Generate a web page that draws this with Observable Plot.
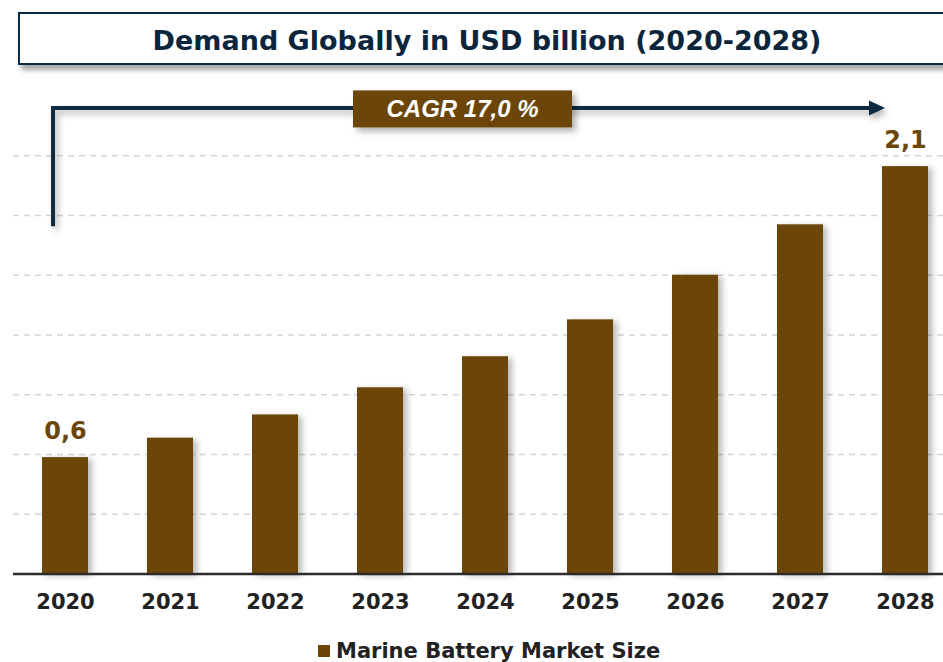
<!DOCTYPE html>
<html>
<head>
<meta charset="utf-8">
<script src="https://cdn.jsdelivr.net/npm/d3@7"></script>
<script src="https://cdn.jsdelivr.net/npm/@observablehq/plot@0.6"></script>
<style>
  html, body { margin: 0; padding: 0; background: #fff; }
  body { width: 943px; height: 662px; overflow: hidden; position: relative; }
  #title {
    position: absolute; left: 18px; top: 12px; width: 944px; height: 49px;
    border: 2px solid #0e2a40; background: #fff;
    box-shadow: 3px 5px 5px rgba(0,0,0,0.35);
    font: bold 27px "DejaVu Sans", Verdana, sans-serif; color: #0b263c;
    display: flex; align-items: center; justify-content: center;
    box-sizing: content-box; padding-right: 0;
  }
  #title span { position: relative; left: -5px; top: 2px; }
  #chart { position: absolute; left: 0; top: 0; }
  #legend {
    position: absolute; left: 318px; top: 639px; line-height: 21px;
    font: bold 21px "DejaVu Sans", Verdana, sans-serif; color: #222;
    display: flex; align-items: center; white-space: nowrap;
  }
  #legend i { display: inline-block; width: 12px; height: 12px; background: #6c4609; margin-right: 6px; }
  g[aria-label="bar"] { filter: drop-shadow(4px 2px 3px rgba(0,0,0,0.28)); }
  .arrow { filter: drop-shadow(3px 4px 3px rgba(0,0,0,0.3)); }
</style>
</head>
<body>
<div id="chart"></div>
<div id="title"><span>Demand Globally in USD billion (2020-2028)</span></div>
<div id="legend"><i></i><span>Marine Battery Market Size</span></div>
<script>
const years = ["2020","2021","2022","2023","2024","2025","2026","2027","2028"];
const values = [0.60, 0.70, 0.82, 0.96, 1.12, 1.31, 1.54, 1.80, 2.10];
const labelledYears = ["2020", "2028"];
const gridValues = [0.308, 0.616, 0.924, 1.232, 1.540, 1.848, 2.156];
const seriesName = "Marine Battery Market Size";
const cagrText = "CAGR 17,0 %";
const arrowLevel = 2.40;   // value level of the horizontal CAGR arrow
const arrowStart = 1.79;   // value level where the vertical stem begins

const brown = "#6c4609";
const navy = "#0e2a40";

const data = years.map((year, i) => ({year, value: values[i]}));
const labels = data.filter(d => labelledYears.includes(d.year))
  .map(d => ({...d, label: d.value.toFixed(1).replace(".", ",")}));

function cagrMark(index, scales, values, dims) {
  const ns = "http://www.w3.org/2000/svg";
  const g = document.createElementNS(ns, "g");
  const bw = scales.x.bandwidth ? scales.x.bandwidth() : 46;
  const xStem = scales.x(years[0]) + bw * 0.24;
  const xTip = scales.x(years[years.length - 1]) + bw / 2 - 20;
  const yTop = scales.y(arrowLevel);
  const yBot = scales.y(arrowStart);
  const ag = document.createElementNS(ns, "g");
  ag.setAttribute("class", "arrow");
  const path = document.createElementNS(ns, "path");
  path.setAttribute("d", `M${xStem},${yBot}V${yTop}H${xTip - 15}`);
  path.setAttribute("fill", "none");
  path.setAttribute("stroke", navy);
  path.setAttribute("stroke-width", 4);
  ag.appendChild(path);
  const head = document.createElementNS(ns, "path");
  head.setAttribute("d", `M${xTip - 16},${yTop - 7.5}L${xTip},${yTop}L${xTip - 16},${yTop + 7.5}Z`);
  head.setAttribute("fill", navy);
  ag.appendChild(head);
  g.appendChild(ag);
  // CAGR box
  const cx = (scales.x(years[3]) + scales.x(years[4])) / 2 + bw / 2 + 30;
  const bwid = 219, bh = 37;
  const rect = document.createElementNS(ns, "rect");
  rect.setAttribute("x", cx - bwid / 2);
  rect.setAttribute("y", yTop - 17.5);
  rect.setAttribute("width", bwid);
  rect.setAttribute("height", bh);
  rect.setAttribute("fill", brown);
  rect.setAttribute("style", "filter: drop-shadow(4px 4px 3px rgba(0,0,0,0.3))");
  g.appendChild(rect);
  const t = document.createElementNS(ns, "text");
  t.setAttribute("x", cx);
  t.setAttribute("y", yTop + 1);
  t.setAttribute("text-anchor", "middle");
  t.setAttribute("dominant-baseline", "central");
  t.setAttribute("fill", "#fff");
  t.setAttribute("style", "font: italic bold 24px 'Liberation Sans', Arial, sans-serif");
  t.textContent = cagrText;
  g.appendChild(t);
  return g;
}

const chart = Plot.plot({
  width: 943,
  height: 662,
  marginTop: 88.5,
  marginBottom: 88.5,
  marginLeft: 13,
  marginRight: 0,
  style: {fontFamily: "DejaVu Sans, Verdana, sans-serif", background: "transparent", overflow: "hidden"},
  x: {type: "band", domain: years, range: [13, 958], paddingInner: 0.56, paddingOuter: 0.28, label: null},
  y: {domain: [0, 2.5], axis: null, label: null},
  marks: [
    Plot.ruleY(gridValues, {stroke: "#cfd6dc", strokeWidth: 1.5, strokeDasharray: "6,5"}),
    Plot.barY(data, {x: "year", y: "value", fill: brown, title: d => `${seriesName} ${d.year}: ${d.value}`}),
    Plot.ruleY([0], {stroke: "#2b2b2b", strokeWidth: 2.5}),
    Plot.axisX({tickSize: 0, tickPadding: 20, fontSize: 21, fontWeight: "bold", fill: "#222", label: null}),
    Plot.text(labels, {x: "year", y: "value", text: "label", dy: -26, fill: brown, fontSize: 24, fontWeight: "bold"}),
    cagrMark
  ]
});
document.getElementById("chart").appendChild(chart);
</script>
</body>
</html>
